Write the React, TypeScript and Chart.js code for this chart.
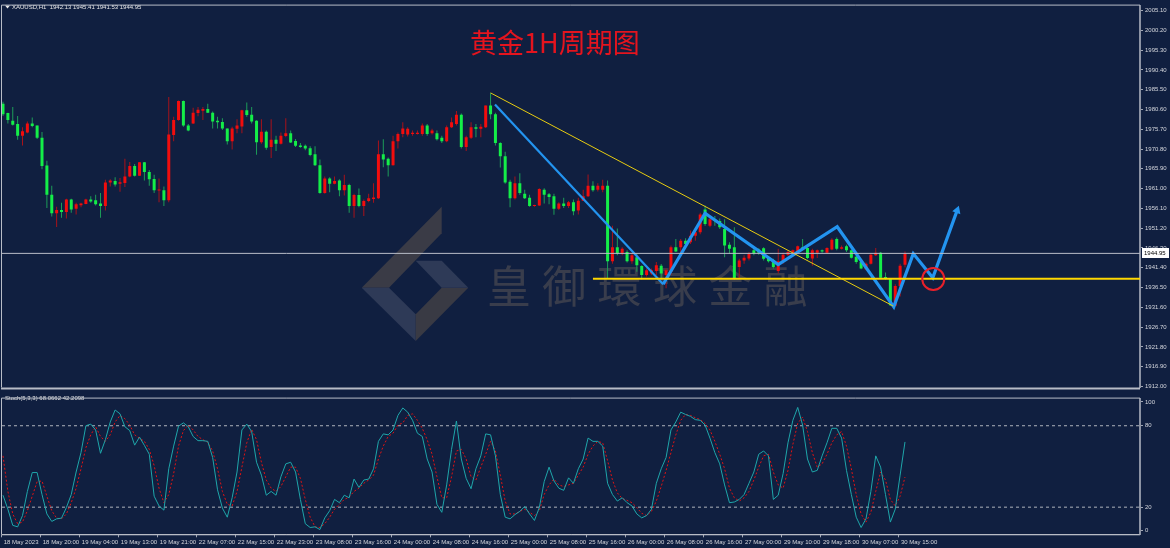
import React, { useEffect, useRef } from 'react';
import { Chart, registerables } from 'chart.js';

Chart.register(...registerables);

// ---------------- DATA ----------------
const OPEN = [1982.0,1979.7,1977.8,1977.0,1974.1,1974.9,1977.1,1976.6,1973.6,1966.7,1959.5,1954.9,1955.7,1955.2,1958.3,1956.0,1956.9,1957.2,1958.3,1958.1,1957.3,1956.7,1962.5,1962.9,1962.2,1962.4,1964.0,1966.6,1964.2,1967.5,1965.1,1963.4,1960.5,1960.6,1958.1,1974.3,1978.0,1982.7,1976.6,1977.1,1979.7,1980.3,1980.7,1979.8,1977.8,1977.5,1975.9,1972.7,1975.8,1976.4,1980.4,1979.3,1977.8,1972.5,1975.1,1971.3,1973.1,1972.1,1974.0,1974.7,1972.8,1971.7,1971.6,1971.0,1969.5,1966.8,1959.9,1963.5,1962.2,1963.0,1960.6,1961.9,1956.7,1959.4,1956.7,1957.9,1958.4,1958.6,1969.5,1968.4,1966.8,1972.7,1974.5,1974.4,1974.5,1974.5,1974.5,1976.6,1974.7,1974.7,1973.6,1972.7,1976.2,1977.0,1979.3,1971.3,1973.6,1976.2,1975.8,1976.2,1981.6,1979.4,1972.3,1969.0,1962.7,1958.6,1962.3,1959.7,1958.7,1956.7,1956.8,1960.7,1959.6,1959.1,1956.0,1957.3,1956.7,1957.6,1955.6,1958.0,1959.1,1961.7,1960.7,1960.7,1961.7,1943.0,1946.5,1944.9,1945.3,1943.0,1944.0,1941.8,1939.6,1940.0,1940.6,1941.9,1939.6,1940.4,1946.5,1946.5,1948.1,1947.7,1949.3,1950.2,1955.8,1951.8,1953.4,1953.0,1951.0,1947.1,1946.5,1941.6,1943.2,1943.7,1945.7,1945.9,1946.2,1943.8,1943.2,1940.6,1942.8,1944.6,1945.1,1945.3,1946.5,1946.3,1943.7,1945.1,1945.7,1945.1,1945.9,1948.5,1946.1,1946.7,1945.7,1944.1,1942.8,1941.0,1942.4,1944.5,1945.1,1939.1,1938.6,1932.0,1936.9,1942.13];
const HIGH = [1982.5,1979.8,1981.2,1979.0,1976.2,1977.6,1978.6,1976.6,1975.0,1967.9,1961.7,1956.5,1957.5,1958.5,1958.5,1957.5,1957.5,1958.5,1959.1,1959.5,1959.9,1963.2,1963.3,1963.8,1963.6,1968.4,1967.6,1967.1,1967.6,1967.6,1965.6,1964.4,1963.5,1961.5,1983.7,1978.8,1982.8,1982.8,1977.0,1981.0,1981.2,1981.2,1982.0,1980.1,1978.8,1978.4,1975.9,1976.3,1978.2,1980.5,1982.3,1981.2,1977.9,1978.2,1975.4,1978.2,1974.1,1974.9,1978.4,1975.4,1973.3,1972.3,1971.9,1971.5,1971.5,1968.2,1964.0,1963.8,1964.0,1963.3,1964.4,1962.2,1959.7,1961.0,1958.3,1959.7,1962.3,1972.9,1973.2,1968.7,1974.1,1974.9,1977.4,1976.2,1975.4,1975.4,1977.1,1977.0,1975.8,1975.4,1974.1,1976.6,1978.6,1980.2,1979.6,1974.1,1977.4,1977.0,1977.0,1981.6,1984.7,1979.8,1972.5,1970.1,1963.2,1964.0,1964.8,1960.7,1959.5,1957.0,1961.1,1961.1,1959.9,1959.7,1957.6,1958.7,1957.9,1958.3,1958.7,1960.7,1964.5,1962.8,1962.3,1963.2,1963.0,1951.8,1951.1,1946.5,1945.7,1945.1,1944.9,1942.0,1941.2,1941.2,1942.8,1942.3,1941.2,1946.9,1948.5,1948.5,1948.7,1950.6,1951.0,1955.0,1956.8,1954.2,1954.2,1953.6,1953.4,1947.7,1951.4,1943.6,1944.5,1945.3,1946.1,1946.2,1946.5,1944.1,1943.6,1946.1,1945.1,1945.7,1945.9,1946.9,1948.5,1946.5,1946.1,1945.9,1945.9,1946.5,1948.7,1948.9,1946.9,1947.1,1945.9,1944.3,1943.0,1942.7,1944.9,1946.3,1945.3,1940.2,1938.8,1937.3,1942.4,1945.41];
const LOW = [1979.0,1977.1,1976.6,1973.1,1971.7,1974.7,1976.2,1973.3,1965.8,1956.2,1954.1,1951.5,1953.8,1953.6,1955.0,1954.6,1956.4,1957.1,1957.5,1956.8,1953.8,1955.6,1961.5,1961.5,1960.2,1961.4,1963.8,1964.0,1964.1,1963.0,1961.7,1959.9,1957.6,1956.7,1957.6,1972.7,1977.8,1976.3,1975.2,1977.0,1978.9,1978.0,1979.7,1975.9,1975.9,1975.5,1971.9,1970.7,1974.7,1974.7,1978.8,1977.1,1969.4,1972.1,1970.6,1968.6,1970.3,1971.9,1973.7,1972.3,1971.3,1971.1,1970.5,1969.0,1966.6,1959.7,1959.7,1960.1,1962.1,1959.1,1959.3,1955.0,1953.8,1956.4,1954.2,1957.6,1957.5,1958.4,1966.3,1964.0,1966.7,1970.9,1973.7,1973.9,1974.1,1974.4,1974.1,1974.1,1974.4,1972.9,1972.3,1972.5,1976.0,1976.6,1970.9,1970.3,1973.3,1973.7,1973.7,1976.0,1978.2,1971.7,1966.2,1962.2,1956.4,1958.3,1959.5,1958.4,1956.5,1956.5,1956.7,1957.3,1957.1,1954.5,1955.7,1956.2,1956.2,1954.4,1954.6,1957.9,1958.9,1960.2,1960.3,1960.1,1938.8,1942.4,1944.5,1944.5,1942.7,1942.4,1940.4,1938.5,1939.2,1939.6,1939.6,1938.4,1936.3,1939.6,1945.3,1945.3,1946.9,1947.3,1948.1,1949.7,1951.8,1951.4,1951.8,1951.0,1944.0,1944.9,1938.4,1938.8,1942.4,1943.2,1944.5,1944.6,1943.2,1942.7,1941.2,1940.0,1942.4,1944.3,1944.9,1944.9,1945.7,1943.5,1941.9,1943.8,1945.1,1944.9,1945.7,1945.7,1945.9,1945.3,1943.7,1942.4,1941.0,1940.8,1942.2,1944.3,1938.8,1938.4,1931.9,1931.9,1934.3,1941.53];
const CLOSE = [1979.4,1978.0,1976.8,1974.1,1975.2,1977.1,1976.5,1973.6,1966.6,1959.5,1954.9,1955.7,1955.2,1958.3,1955.8,1957.1,1957.3,1958.3,1957.8,1957.1,1956.7,1962.5,1963.0,1962.0,1962.6,1964.0,1966.6,1964.2,1967.5,1965.1,1963.3,1960.6,1960.7,1958.1,1974.4,1978.0,1982.7,1976.6,1975.4,1979.8,1980.5,1980.7,1979.8,1977.6,1977.4,1975.9,1972.7,1975.9,1976.6,1980.4,1979.2,1977.6,1972.5,1975.1,1971.1,1973.1,1972.1,1974.1,1974.7,1972.4,1971.6,1971.3,1970.9,1969.3,1966.8,1959.9,1963.5,1962.2,1962.9,1960.6,1961.9,1956.7,1959.4,1956.7,1957.9,1958.6,1958.8,1969.5,1968.2,1966.8,1972.7,1974.5,1975.9,1975.8,1974.8,1974.8,1976.6,1974.5,1975.4,1973.2,1972.7,1976.2,1977.4,1979.3,1971.3,1973.7,1976.2,1975.8,1976.3,1981.6,1979.4,1972.3,1969.0,1962.5,1958.6,1962.3,1959.9,1958.6,1956.7,1956.8,1960.9,1959.5,1958.9,1956.0,1957.3,1956.7,1957.6,1955.4,1958.0,1959.1,1961.7,1960.6,1961.7,1961.7,1943.0,1946.5,1944.9,1946.1,1943.0,1944.5,1942.0,1939.6,1940.8,1940.8,1942.0,1940.0,1940.8,1946.5,1945.4,1948.1,1947.3,1949.3,1950.2,1954.6,1952.2,1953.4,1953.0,1951.4,1946.9,1946.1,1938.8,1943.2,1943.9,1944.9,1944.9,1945.1,1943.6,1943.0,1941.6,1943.0,1944.6,1945.3,1945.7,1946.7,1946.1,1943.8,1945.7,1945.7,1945.4,1946.3,1948.3,1946.1,1946.5,1945.7,1943.9,1942.8,1941.2,1942.4,1944.6,1945.1,1938.9,1938.6,1932.1,1936.9,1941.9,1944.95];

const STOCH_K = [28.8,18.5,6.6,5.5,13.8,31.6,45.5,45.5,29.3,15,9.5,11.4,11.9,19.7,29.3,45.9,60.2,80,81.2,76.9,59.7,69.7,82.8,91.6,88.8,79.3,76.4,65.7,71.6,65.5,59,28.1,20.9,17.8,48.3,65,79.7,82.1,79.3,72.1,69,69,68.5,56.6,32.8,19.3,12.6,26.9,45.9,76.9,81.2,75.7,53.1,43.6,28.8,31.6,28.8,42.4,51.9,53.1,45.9,25.7,7.8,5,5.5,3.5,12.1,17.4,25.7,23.3,28.8,26.9,40.7,34.5,40,40.7,48.3,68.5,74,73.3,76.9,87.6,93.1,90,84,74.5,72.1,55.5,45.9,22.1,16.2,36.4,62.6,83.5,55.5,41.2,33.6,48.3,57.8,74,73.3,57.8,29.3,12.6,11.4,14.5,16.9,20.5,15,10.2,19.7,38.8,49.5,39.3,34,32.4,41.6,37.6,48.3,55.5,70.9,68.5,68.5,65,37.6,29.3,24.5,26.9,23.3,20.9,15,12.1,13.8,18.5,37.6,48.3,56.6,76.9,82.8,90,88.3,86.9,84.5,84,80.5,70.9,60.2,51.9,36.4,23.3,23.8,25.7,29.3,37.6,45.9,59,61.4,57.8,25.7,28.8,44.7,67.4,84,93.5,80.5,55.5,45.9,47.1,57.8,67.4,78.1,78.1,70.9,47.1,29.3,12.6,5,11.4,31.6,57.8,49.5,29.3,9,18.5,43.6,68.0662];
const STOCH_D = [57.8,31.6,15,7.8,9,17.4,28.1,38.8,39.3,28.1,17.4,11.9,11.4,15,23.3,34,48.3,63.8,73.3,79.3,72.1,68.5,73.3,82.8,87.6,85.2,80.5,73.3,70.9,68.5,62.6,50.7,34,23.3,29.3,44.7,65,76.4,80.5,76.9,72.1,69.7,67.8,61.4,48.3,31.6,22.1,20.9,31.6,49.5,67.4,77.4,69.7,53.1,40,34,31.6,35.2,42.4,49.5,49.5,41.2,25.7,12.6,5.5,5,7.8,12.6,18.5,22.1,25.7,27.4,31.6,34,37.6,40,43.6,55.5,65,72.1,74.5,80.5,82.1,87.6,88.8,84,78.1,69.7,59,42.4,26.9,26.9,42.4,61.4,62.6,55.5,42.4,40,49.5,59,68.5,61.4,43.6,24.5,15,15,16.9,18.5,16.2,13.8,17.4,29.3,36.4,40.7,36.4,35.2,36.4,37.6,43.6,49.5,59,65,68.5,67.4,54.3,40,30.5,26.4,25,23.3,19.7,15.5,13.8,16.9,24.5,35.2,47.1,60.2,73.3,84,88.3,87.6,85.9,84.5,81.7,76.9,68.5,59,48.3,34,26.9,24.5,26.9,31.6,40,49.5,57.8,59,45.9,36.4,34,47.1,66.2,81.7,86.4,75.7,60.2,49.5,51.9,59,67.4,73.3,75.7,65,48.3,29.3,15,9,16.2,31.6,45.9,40,25.7,20.9,28.1,42.2098];

const TIME_LABELS = ['18 May 2023','18 May 20:00','19 May 04:00','19 May 13:00','19 May 21:00','22 May 07:00','22 May 15:00','22 May 23:00','23 May 08:00','23 May 16:00','24 May 00:00','24 May 08:00','24 May 16:00','25 May 00:00','25 May 08:00','25 May 16:00','26 May 00:00','26 May 08:00','26 May 16:00','27 May 00:00','29 May 10:00','29 May 18:00','30 May 07:00','30 May 15:00'];
const TIME_LABEL_BARS = [0,8,16,24,32,40,48,56,64,72,80,88,96,104,112,120,128,136,144,152,160,168,176,184];

const PRICE_TICKS = [1912.0,1916.9,1921.8,1926.7,1931.6,1936.5,1941.4,1946.3,1951.2,1956.1,1961.0,1965.9,1970.8,1975.7,1980.6,1985.5,1990.4,1995.3,2000.2,2005.1];
const STOCH_TICK_VALUES = [97.6, 80, 20, 3.1];
const STOCH_TICK_LABELS = ['100', '80', '20', '0'];
const STOCH_LEVELS = [80, 20];

// annotations (bar index, price)
const TREND_X = [100.0, 182.6];
const TREND_Y = [1984.7, 1931.9];
const SUPPORT_X0 = 121.0;
const SUPPORT_Y = 1938.7;
const ZIG_X = [100.9, 135.4, 144.0, 159.0, 171.1, 182.7, 186.7, 190.7, 195.7];
const ZIG_Y = [1981.8, 1937.3, 1954.9, 1942.2, 1951.55, 1931.7, 1944.9, 1938.9, 1955.6];
const CIRCLE_X = 190.8;
const CIRCLE_Y = 1938.6;

const SYMBOL = 'XAUUSD,H1';
const STOCH_NAME = 'Stoch(5,3,3)';
const TITLE = '黄金1H周期图';
const WATERMARK = '皇御環球金融';

// ---------------- STYLE ----------------
const BG = '#101f40';
const X_MIN = -0.205;
const X_MAX = 233.2;
const Y_MIN = 1911.76;
const Y_MAX = 2006.32;
const FONT = 'Liberation Sans';
const AXIS_TEXT = '#d4d6dc';
const FRAME = '#b8bcc6';
const BULL = '#f20d0d';
const BEAR = '#14ee48';
const BULL_WICK = '#a8121a';
const BEAR_WICK = '#1c9c58';
const BLUE = '#2394f0';

const N = CLOSE.length;
const idx = CLOSE.map((_, i) => i);
const up = (i: number) => CLOSE[i] >= OPEN[i];

const framePlugin = (bottomWidth: number) => ({
  id: 'frame',
  afterDraw(chart: any) {
    const { ctx, chartArea: a } = chart;
    ctx.save();
    ctx.strokeStyle = FRAME;
    ctx.lineWidth = 1;
    ctx.beginPath();
    ctx.moveTo(a.left - 0.5, a.bottom);
    ctx.lineTo(a.left - 0.5, a.top - 0.5);
    ctx.lineTo(a.right, a.top - 0.5);
    ctx.stroke();
    ctx.lineWidth = bottomWidth;
    ctx.beginPath();
    ctx.moveTo(a.left - 1, a.bottom + bottomWidth / 2);
    ctx.lineTo(a.right, a.bottom + bottomWidth / 2);
    ctx.stroke();
    ctx.restore();
  },
});

const decoPlugin = {
  id: 'deco',
  beforeDatasetsDraw(chart: any) {
    const { ctx } = chart;
    ctx.save();
    // logo
    const poly = (pts: number[][], color: string) => {
      ctx.fillStyle = color;
      ctx.beginPath();
      ctx.moveTo(pts[0][0], pts[0][1]);
      for (let k = 1; k < pts.length; k++) ctx.lineTo(pts[k][0], pts[k][1]);
      ctx.closePath();
      ctx.fill();
    };
    poly([[441.7, 206.7], [441.7, 233.3], [389, 287.7], [361.7, 287.7]], '#3a3b46');
    poly([[361.7, 287.7], [389, 287.7], [415.7, 314.3], [415.7, 341]], '#2e3a57');
    poly([[415.7, 314.3], [441.7, 287.7], [468.3, 287.7], [415.7, 341]], '#393a44');
    poly([[415.7, 260.7], [441.7, 260.7], [468.3, 287.7], [441.7, 287.7]], '#2e3a57');
    // watermark
    ctx.fillStyle = '#393d4c';
    ctx.font = '44px "Noto Sans CJK TC"';
    ctx.textBaseline = 'middle';
    ctx.textAlign = 'left';
    Array.from(WATERMARK).forEach((ch, k) => ctx.fillText(ch, 487 + k * 55.3, 286));
    // title
    ctx.fillStyle = '#e4141e';
    ctx.font = '27px "Noto Sans CJK SC"';
    ctx.fillText(TITLE, 470, 43);
    ctx.restore();
  },
  afterDraw(chart: any) {
    const { ctx } = chart;
    const ys = chart.scales.y;
    ctx.save();
    // header
    ctx.fillStyle = '#e8e8e8';
    ctx.beginPath();
    ctx.moveTo(5, 5.5); ctx.lineTo(10, 5.5); ctx.lineTo(7.5, 8.5); ctx.closePath(); ctx.fill();
    ctx.font = `6px "${FONT}"`;
    ctx.textBaseline = 'middle';
    ctx.fillText(`${SYMBOL}  ${OPEN[N - 1].toFixed(2)} ${HIGH[N - 1].toFixed(2)} ${LOW[N - 1].toFixed(2)} ${CLOSE[N - 1].toFixed(2)}`, 12, 7.5);
    // current price box
    const y = ys.getPixelForValue(CLOSE[N - 1]);
    ctx.fillStyle = '#ffffff';
    ctx.fillRect(1142, Math.round(y) - 5, 27, 10);
    ctx.fillStyle = '#000000';
    ctx.fillText(CLOSE[N - 1].toFixed(2), 1144, Math.round(y));
    ctx.restore();
  },
};

const stochLabelPlugin = {
  id: 'stochLabel',
  afterDraw(chart: any) {
    const { ctx } = chart;
    ctx.save();
    ctx.fillStyle = '#e0e0e0';
    ctx.font = `6px "${FONT}"`;
    ctx.textBaseline = 'middle';
    ctx.fillText(`${STOCH_NAME} ${STOCH_K[N - 1].toFixed(4)} ${STOCH_D[N - 1].toFixed(4)}`, 5, 5.5);
    ctx.restore();
  },
};

export default function App() {
  const refA = useRef<HTMLCanvasElement>(null);
  const refB = useRef<HTMLCanvasElement>(null);

  useEffect(() => {
    document.body.style.margin = '0';
    document.body.style.background = BG;

    const line = (data: any[], color: string, width: number, extra: any = {}) => ({
      type: 'line',
      data,
      borderColor: color,
      borderWidth: width,
      pointRadius: 0,
      fill: false,
      tension: 0,
      order: 1,
      ...extra,
    });

    const chartA = new Chart(refA.current!, {
      type: 'bar',
      data: {
        datasets: [
          {
            type: 'bar',
            data: idx.map((i) => ({ x: i, y: [LOW[i], HIGH[i]] })),
            backgroundColor: idx.map((i) => (up(i) ? BULL_WICK : BEAR_WICK)),
            barThickness: 1,
            grouped: false,
            borderWidth: 0,
            inflateAmount: 0,
            order: 4,
          },
          {
            type: 'bar',
            data: idx.map((i) => ({ x: i, y: [OPEN[i], CLOSE[i]] })),
            backgroundColor: idx.map((i) => (up(i) ? BULL : BEAR)),
            barThickness: 3,
            minBarLength: 1,
            grouped: false,
            borderWidth: 0,
            inflateAmount: 0,
            order: 3,
          },
          line([{ x: X_MIN, y: CLOSE[N - 1] }, { x: X_MAX, y: CLOSE[N - 1] }], '#b9bdc8', 1),
          line([{ x: SUPPORT_X0, y: SUPPORT_Y }, { x: X_MAX, y: SUPPORT_Y }], '#ffd800', 2),
          line(TREND_X.map((x, k) => ({ x, y: TREND_Y[k] })), '#e8cc10', 1),
          line(ZIG_X.slice(0, 2).map((x, k) => ({ x, y: ZIG_Y[k] })), BLUE, 2.2),
          line(ZIG_X.slice(1).map((x, k) => ({ x, y: ZIG_Y[k + 1] })), BLUE, 3.2, {
            pointRadius: ZIG_X.slice(1).map((_, k) => (k === ZIG_X.length - 2 ? 5 : 0)),
            pointStyle: 'triangle',
            rotation: 20,
            pointBackgroundColor: BLUE,
            pointBorderColor: BLUE,
            pointBorderWidth: 0,
          }),
          {
            type: 'line',
            data: [{ x: CIRCLE_X, y: CIRCLE_Y }],
            showLine: false,
            pointRadius: 11,
            pointStyle: 'circle',
            pointBorderColor: '#e8202a',
            pointBorderWidth: 2,
            pointBackgroundColor: 'rgba(0,0,0,0)',
            order: 0,
          },
        ] as any,
      },
      options: {
        animation: false,
        responsive: false,
        maintainAspectRatio: false,
        events: [],
        layout: { autoPadding: false, padding: { left: 2, top: 3, right: 0, bottom: 2 } },
        plugins: { legend: { display: false }, tooltip: { enabled: false }, title: { display: false } },
        scales: {
          x: { type: 'linear', min: X_MIN, max: X_MAX, display: false, offset: false },
          y: {
            type: 'linear',
            position: 'right',
            min: Y_MIN,
            max: Y_MAX,
            afterBuildTicks: (s: any) => {
              s.ticks = PRICE_TICKS.map((v) => ({ value: v }));
            },
            afterFit: (s: any) => {
              s.width = 30;
            },
            grid: { drawOnChartArea: false, color: '#a0a6b4', tickLength: 3 },
            border: { color: '#8c93a4', width: 2 },
            ticks: {
              color: AXIS_TEXT,
              font: { size: 6, family: FONT },
              padding: 2,
              callback: (v: any) => Number(v).toFixed(2),
            },
          },
        },
      } as any,
      plugins: [decoPlugin, framePlugin(2)],
    } as any);

    const chartB = new Chart(refB.current!, {
      type: 'line',
      data: {
        datasets: [
          {
            data: idx.map((i) => ({ x: i, y: STOCH_K[i] })),
            borderColor: '#1fa6aa',
            borderWidth: 1,
            pointRadius: 0,
            tension: 0,
          },
          {
            data: idx.map((i) => ({ x: i, y: STOCH_D[i] })),
            borderColor: '#e01414',
            borderWidth: 1,
            borderDash: [2, 2],
            pointRadius: 0,
            tension: 0,
          },
          ...STOCH_LEVELS.map((lv) => ({
            data: [{ x: X_MIN, y: lv }, { x: X_MAX, y: lv }],
            borderColor: '#aeb2bc',
            borderWidth: 1,
            borderDash: [3, 3],
            pointRadius: 0,
          })),
        ],
      },
      options: {
        animation: false,
        responsive: false,
        maintainAspectRatio: false,
        events: [],
        layout: { autoPadding: false, padding: { left: 2, top: 1.3, right: 0, bottom: 0 } },
        plugins: { legend: { display: false }, tooltip: { enabled: false } },
        scales: {
          x: {
            type: 'linear',
            min: X_MIN,
            max: X_MAX,
            offset: false,
            afterBuildTicks: (s: any) => {
              s.ticks = TIME_LABEL_BARS.map((v) => ({ value: v - 0.25 }));
            },
            afterFit: (s: any) => {
              s.height = 13.7;
            },
            grid: { drawOnChartArea: false, color: '#a0a6b4', tickLength: 3 },
            border: { color: FRAME, width: 1 },
            ticks: {
              color: AXIS_TEXT,
              font: { size: 6, family: FONT },
              padding: 1,
              align: 'start',
              labelOffset: 2,
              maxRotation: 0,
              minRotation: 0,
              autoSkip: false,
              callback: (_v: any, i: number) => TIME_LABELS[i],
            },
          },
          y: {
            type: 'linear',
            position: 'right',
            min: 0,
            max: 100,
            afterBuildTicks: (s: any) => {
              s.ticks = STOCH_TICK_VALUES.map((v) => ({ value: v }));
            },
            afterFit: (s: any) => {
              s.width = 30;
            },
            grid: { drawOnChartArea: false, color: '#a0a6b4', tickLength: 3 },
            border: { color: '#8c93a4', width: 2 },
            ticks: {
              color: AXIS_TEXT,
              font: { size: 6, family: FONT },
              padding: 2,
              callback: (_v: any, i: number) => STOCH_TICK_LABELS[i],
            },
          },
        },
      } as any,
      plugins: [stochLabelPlugin, framePlugin(1)],
    } as any);

    return () => {
      chartA.destroy();
      chartB.destroy();
    };
  }, []);

  return (
    <div style={{ position: 'absolute', left: 0, top: 0, width: 1170, height: 548, background: BG, overflow: 'hidden' }}>
      <canvas ref={refA} width={1170} height={393} style={{ position: 'absolute', left: 0, top: 0 }} />
      <canvas ref={refB} width={1170} height={155} style={{ position: 'absolute', left: 0, top: 393 }} />
    </div>
  );
}
